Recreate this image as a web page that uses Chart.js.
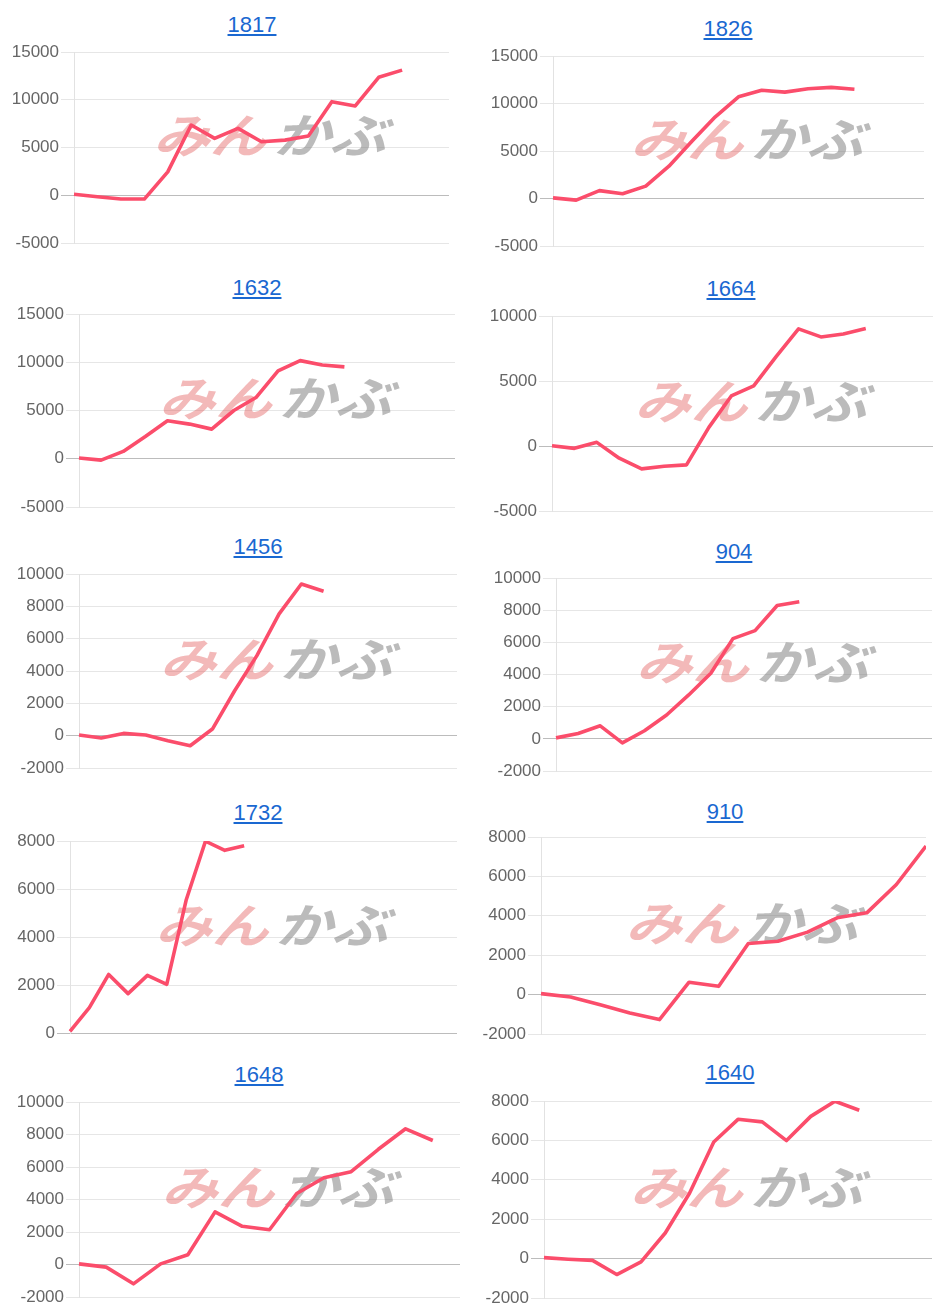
<!DOCTYPE html>
<html>
<head>
<meta charset="utf-8">
<script src="https://cdn.jsdelivr.net/npm/chart.js@4.4.0/dist/chart.umd.min.js"></script>
<style>
html,body{margin:0;padding:0;background:#fff;}
#page{position:relative;width:946px;height:1315px;overflow:hidden;background:#fff;}
.title{position:absolute;height:26px;line-height:26px;font-family:"Liberation Sans",Arial,Helvetica,sans-serif;font-size:22px;white-space:nowrap;transform:translateX(-50%);}
.title a{color:#1a68d1;text-decoration:underline;text-underline-offset:2px;}
.box{position:absolute;}
.box canvas{display:block;}
</style>
</head>
<body>
<div id="page"></div>
<script>
// ---- data ----
const xLabels = ['1','2','3','4','5','6','7','8','9','10','11','12','13','14','15','16','17','18','19','20','21'];
const titles = ['1817','1826','1632','1664','1456','904','1732','910','1648','1640'];
const categoryCounts = [17,17,18,18,18,18,21,14,15,17];

const s1817 = [100,-150,-400,-400,2450,7350,5950,7000,5600,5770,6200,9800,9350,12350,13100];
const s1826 = [70,-170,830,500,1300,3400,6050,8600,10700,11400,11200,11550,11700,11500];
const s1632 = [70,-140,760,2300,3930,3590,3070,5000,6340,9100,10170,9720,9520];
const s1664 = [25,-180,280,-940,-1760,-1560,-1450,1430,3850,4620,6870,9010,8390,8620,9030];
const s1456 = [40,-140,140,40,-310,-620,410,2780,4950,7530,9380,8930];
const s904  = [60,330,810,-250,500,1480,2730,4080,6230,6730,8290,8520];
const s1732 = [70,1060,2440,1640,2400,2030,5530,7990,7610,7800];
const s910  = [50,-120,-510,-930,-1270,630,420,2590,2710,3170,3900,4150,5590,7540];
const s1648 = [40,-160,-1190,40,600,3240,2350,2140,4370,5340,5710,7090,8350,7630];
const s1640 = [50,-30,-90,-810,-170,1300,3320,5920,7070,6940,5990,7220,7990,7530];
const seriesList = [s1817,s1826,s1632,s1664,s1456,s904,s1732,s910,s1648,s1640];

const yMins  = [-5000,-5000,-5000,-5000,-2000,-2000,0,-2000,-2000,-2000];
const yMaxs  = [15000,15000,15000,10000,10000,10000,8000,8000,10000,8000];
const ySteps = [5000,5000,5000,5000,2000,2000,2000,2000,2000,2000];

// ---- layout (pixel geometry, not data) ----
const layoutBoxes = [
  {cx:0,   pl:74,  pr:449, pt:52,   pb:243,  tx:252, ty:25},
  {cx:473, pl:553, pr:924, pt:56,   pb:246,  tx:728, ty:29},
  {cx:0,   pl:79,  pr:455, pt:314,  pb:507,  tx:257, ty:288},
  {cx:473, pl:552, pr:933, pt:316,  pb:511,  tx:731, ty:289},
  {cx:0,   pl:79,  pr:457, pt:574,  pb:768,  tx:258, ty:547},
  {cx:473, pl:556, pr:932, pt:578,  pb:771,  tx:734, ty:552},
  {cx:0,   pl:70,  pr:457, pt:841,  pb:1033, tx:258, ty:813},
  {cx:473, pl:541, pr:926, pt:837,  pb:1034, tx:725, ty:812},
  {cx:0,   pl:79,  pr:460, pt:1102, pb:1297, tx:259, ty:1075},
  {cx:473, pl:544, pr:932, pt:1101, pb:1298, tx:730, ty:1073}
];
const PADT = 14, PADB = 14;

const watermark = {
  id: 'watermark',
  beforeDatasetsDraw(chart) {
    const ctx = chart.ctx, ca = chart.chartArea;
    const x = (ca.left + ca.right) / 2 + 14;
    const y = (ca.top + ca.bottom) / 2 - 12;
    ctx.save();
    ctx.translate(x, y);
    ctx.scale(1.2, 1);
    ctx.transform(1, 0, -0.28, 1, 0, 0);
    ctx.font = 'bold 47px "Noto Sans CJK JP"';
    ctx.textBaseline = 'middle';
    ctx.fillStyle = 'rgba(225,80,80,0.4)';
    ctx.textAlign = 'right';
    ctx.fillText('みん', -3, 0);
    ctx.fillStyle = 'rgba(120,120,120,0.5)';
    ctx.textAlign = 'left';
    ctx.fillText('かぶ', 3, 0);
    ctx.restore();
  }
};

const page = document.getElementById('page');

layoutBoxes.forEach((b, i) => {
  const t = document.createElement('div');
  t.className = 'title';
  t.style.left = b.tx + 'px';
  t.style.top = (b.ty - 13) + 'px';
  const a = document.createElement('a');
  a.href = '#';
  a.textContent = titles[i];
  t.appendChild(a);
  page.appendChild(t);

  const w = b.pr - b.cx;
  const h = (b.pb - b.pt) + PADT + PADB;
  const box = document.createElement('div');
  box.className = 'box';
  box.style.left = b.cx + 'px';
  box.style.top = (b.pt - PADT) + 'px';
  box.style.width = w + 'px';
  box.style.height = h + 'px';
  const cv = document.createElement('canvas');
  cv.width = w; cv.height = h;
  cv.style.width = w + 'px'; cv.style.height = h + 'px';
  box.appendChild(cv);
  page.appendChild(box);

  const axisW = b.pl - b.cx;
  new Chart(cv, {
    type: 'line',
    data: {
      labels: xLabels.slice(0, categoryCounts[i]),
      datasets: [{
        data: seriesList[i],
        borderColor: '#fb4d6b',
        borderWidth: 3.6,
        pointRadius: 0,
        pointHoverRadius: 0,
        tension: 0,
        fill: false,
        borderJoinStyle: 'round',
        borderCapStyle: 'butt'
      }]
    },
    options: {
      responsive: false,
      animation: false,
      devicePixelRatio: 1,
      layout: { padding: { top: PADT, bottom: PADB, left: 0, right: 0 } },
      plugins: { legend: { display: false }, tooltip: { enabled: false }, title: { display: false } },
      scales: {
        x: { display: false, offset: false },
        y: {
          min: yMins[i], max: yMaxs[i],
          afterFit(scale) { scale.width = axisW; },
          border: { display: true, color: '#e2e2e2', width: 1 },
          grid: {
            color: ctx => (ctx.tick && ctx.tick.value === 0) ? '#bcbcbc' : '#e6e6e6',
            lineWidth: 1,
            drawTicks: true,
            tickLength: 13
          },
          ticks: {
            stepSize: ySteps[i],
            padding: 2,
            color: '#666',
            font: { family: '"Liberation Sans", Arial, sans-serif', size: 17 },
            callback: v => String(v)
          }
        }
      }
    },
    plugins: [watermark]
  });
});
</script>
</body>
</html>
